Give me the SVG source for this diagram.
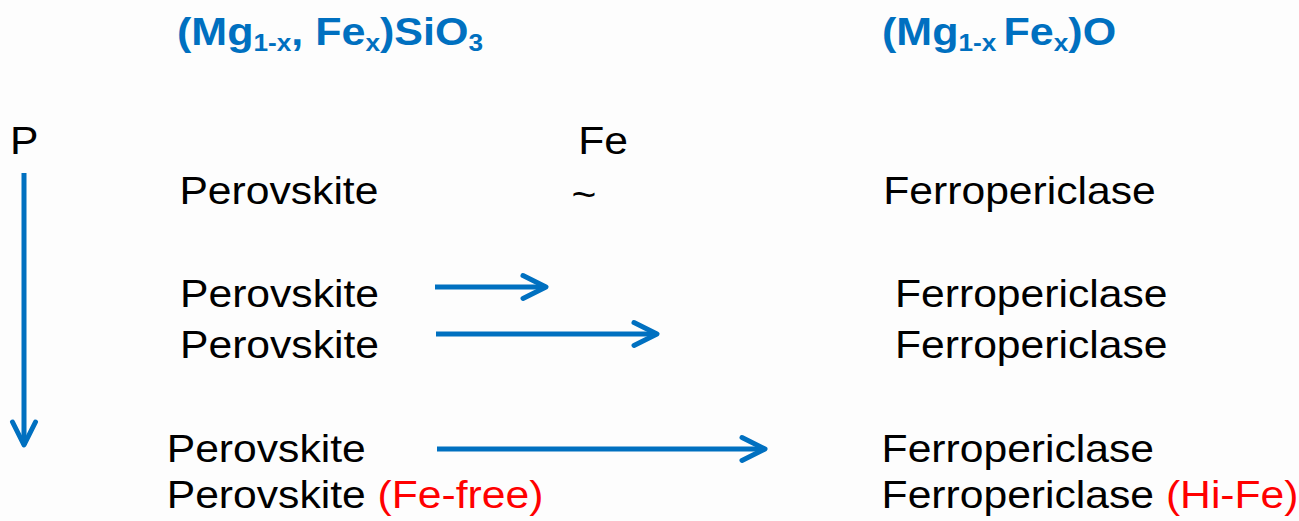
<svg xmlns="http://www.w3.org/2000/svg" width="1299" height="521" viewBox="0 0 1299 521">
<style>
text{font-family:"Liberation Sans",Arial,sans-serif;font-size:38.6px;fill:#000}
.t{font-weight:bold;fill:#0070C0}
.sub{font-size:23.5px}
.red{fill:#FF0000}
.ar{stroke:#0070C0;stroke-width:5;fill:none}
</style>
<defs>
<marker id="head" markerUnits="userSpaceOnUse" viewBox="-30 -20 40 40" refX="0" refY="0" markerWidth="40" markerHeight="40" orient="auto" overflow="visible">
<path d="M-23,-11.5 L0,0 L-23,11.5" fill="none" stroke="#0070C0" stroke-width="5" stroke-linecap="round" stroke-linejoin="round"/>
</marker>
</defs>
<rect width="1299" height="521" fill="#FDFDFD"/>
<g id="title-silicate" transform="translate(177,44.5) scale(1.115,1)"><text class="t">(Mg<tspan class="sub" dy="6.7">1-x</tspan><tspan dy="-6.7">, Fe</tspan><tspan class="sub" dy="6.7">x</tspan><tspan dy="-6.7">)SiO</tspan><tspan class="sub" dy="6.7">3</tspan></text></g>
<g id="title-oxide" transform="translate(882,44.5) scale(1.115,1)"><text class="t">(Mg<tspan class="sub" dy="6.7">1-x </tspan><tspan dy="-6.7">Fe</tspan><tspan class="sub" dy="6.7">x</tspan><tspan dy="-6.7">)O</tspan></text></g>
<g id="label-P" transform="translate(10,154) scale(1.105,1)"><text>P</text></g>
<g id="label-Fe" transform="translate(578.3,154) scale(1.105,1)"><text>Fe</text></g>
<g id="label-tilde" transform="translate(571.4,208) scale(1.105,1)"><text>~</text></g>
<g id="pv1" transform="translate(179.4,204.3) scale(1.105,1)"><text>Perovskite</text></g>
<g id="fp1" transform="translate(883.3,203.5) scale(1.105,1)"><text>Ferropericlase</text></g>
<g id="pv2" transform="translate(180,306.7) scale(1.105,1)"><text>Perovskite</text></g>
<g id="fp2" transform="translate(895,306.7) scale(1.105,1)"><text>Ferropericlase</text></g>
<g id="pv3" transform="translate(180,357.7) scale(1.105,1)"><text>Perovskite</text></g>
<g id="fp3" transform="translate(895,357.7) scale(1.105,1)"><text>Ferropericlase</text></g>
<g id="pv4" transform="translate(166.7,461.7) scale(1.105,1)"><text>Perovskite</text></g>
<g id="fp4" transform="translate(881.6,461.7) scale(1.105,1)"><text>Ferropericlase</text></g>
<g id="pv5" transform="translate(166.7,508.3) scale(1.105,1)"><text>Perovskite <tspan class="red">(Fe-free)</tspan></text></g>
<g id="fp5" transform="translate(881.6,508.3) scale(1.105,1)"><text>Ferropericlase <tspan class="red">(Hi-Fe)</tspan></text></g>
<g id="connectors">
<line class="ar" x1="24" y1="173" x2="24" y2="445" marker-end="url(#head)"/>
<line class="ar" x1="435" y1="287" x2="546" y2="287" marker-end="url(#head)"/>
<line class="ar" x1="436" y1="334" x2="657" y2="334" marker-end="url(#head)"/>
<line class="ar" x1="437" y1="449" x2="765" y2="449" marker-end="url(#head)"/>
</g>
</svg>
